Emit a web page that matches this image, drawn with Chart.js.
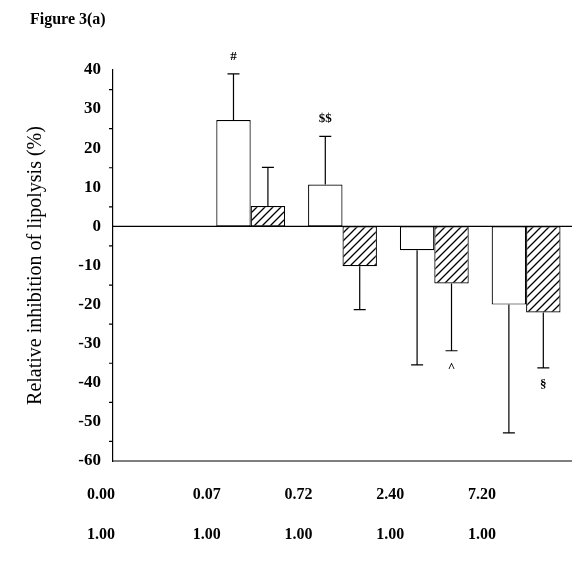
<!DOCTYPE html>
<html><head><meta charset="utf-8">
<script src="https://cdn.jsdelivr.net/npm/chart.js@4"></script>
<style>body{margin:0;background:#fff}#w{position:relative;width:578px;height:564px}</style>
</head><body><div id="w"><canvas id="c" width="578" height="564"></canvas></div>
<script>
const categories = ["0.00","0.07","0.72","2.40","7.20"];
const secondRow = ["1.00","1.00","1.00","1.00","1.00"];
const whiteVals = [0, 27.2, 10.7, -6.1, -20];
const whiteErr = [0, 11.8, 12.3, 29.3, 32.8];
const hatchVals = [0, 5.2, -10.2, -14.6, -22];
const hatchErr = [0, 9.9, 11.1, 17.2, 14.2];
const whiteMarks = ["", "#", "$$", "", ""];
const hatchMarks = ["", "", "", "^", "§"];
const yTicks = [40,30,20,10,0,-10,-20,-30,-40,-50,-60];

function hatch(){
  const p=document.createElement('canvas');p.width=8;p.height=8;
  const g=p.getContext('2d');g.fillStyle='#fff';g.fillRect(0,0,8,8);
  g.strokeStyle='#000';g.lineWidth=1.3;
  g.beginPath();g.moveTo(0,8);g.lineTo(8,0);g.moveTo(-2,2);g.lineTo(2,-2);g.moveTo(6,10);g.lineTo(10,6);g.stroke();
  return g.createPattern(p,'repeat');
}
const ctx=document.getElementById('c').getContext('2d');
const serif='"Liberation Serif", "DejaVu Serif", serif';
const extra={id:'extra',
 afterDatasetsDraw(ch){
  const c=ch.ctx,y=ch.scales.y,x=ch.scales.x,a=ch.chartArea;
  c.save();c.strokeStyle='#000';c.lineWidth=1.2;
  c.beginPath();c.moveTo(a.left,y.getPixelForValue(0));c.lineTo(a.right,y.getPixelForValue(0));
  c.moveTo(a.left,a.bottom);c.lineTo(a.right,a.bottom);c.stroke();
  c.beginPath();
  for(let v=-55;v<=35;v+=10){const py=y.getPixelForValue(v);c.moveTo(a.left-4,py);c.lineTo(a.left,py);}
  c.stroke();
  c.fillStyle='#000';c.font='bold 13px '+serif;c.textAlign='center';
  [[0,whiteVals,whiteErr,whiteMarks],[1,hatchVals,hatchErr,hatchMarks]].forEach(([di,vals,errs,marks])=>{
    const meta=ch.getDatasetMeta(di);
    meta.data.forEach((b,i)=>{
      if(!errs[i])return;
      const v=vals[i],e=vals[i]>=0?vals[i]+errs[i]:vals[i]-errs[i];
      const p0=y.getPixelForValue(v),p1=y.getPixelForValue(e);
      c.beginPath();c.moveTo(b.x,p0);c.lineTo(b.x,p1);c.moveTo(b.x-6,p1);c.lineTo(b.x+6,p1);c.stroke();
      if(marks[i]){
        const ty=vals[i]>=0?p1-14:p1+20;
        c.fillText(marks[i],b.x,ty);
      }
    });
  });
  c.font='bold 16px '+serif;c.textBaseline='middle';
  categories.forEach((l,i)=>{
    const px=x.getPixelForValue(i)-(i===0?58:44);
    c.fillText(l,px,495);c.fillText(secondRow[i],px,535);
  });
  c.font='bold 16px '+serif;c.textAlign='left';c.fillText('Figure 3(a)',30,20);
  c.restore();
 }};
new Chart(ctx,{type:'bar',
 data:{labels:categories,datasets:[
  {data:whiteVals,backgroundColor:'#fff',borderColor:'#000',borderWidth:1.2,borderSkipped:false},
  {data:hatchVals,backgroundColor:hatch(),borderColor:'#000',borderWidth:1.2,borderSkipped:false}]},
 options:{responsive:false,animation:false,devicePixelRatio:1,
  layout:{padding:{top:70,bottom:103,right:6,left:22}},
  plugins:{legend:{display:false},tooltip:{enabled:false}},
  datasets:{bar:{categoryPercentage:0.75,barPercentage:1}},
  scales:{
   x:{display:false},
   y:{min:-60,max:40,afterFit(s){s.width=91;},
    afterBuildTicks(s){s.ticks=yTicks.map(v=>({value:v}));},
    ticks:{color:'#000',font:{family:serif,size:17,weight:'bold'},padding:4},
    grid:{display:false,drawTicks:true,tickLength:8,tickColor:'#000'},
    border:{color:'#000',width:1.2},
    title:{display:true,text:'Relative inhibition of lipolysis (%)',color:'#000',font:{family:serif,size:20},padding:2}}
  }},
 plugins:[extra]});
</script></body></html>
